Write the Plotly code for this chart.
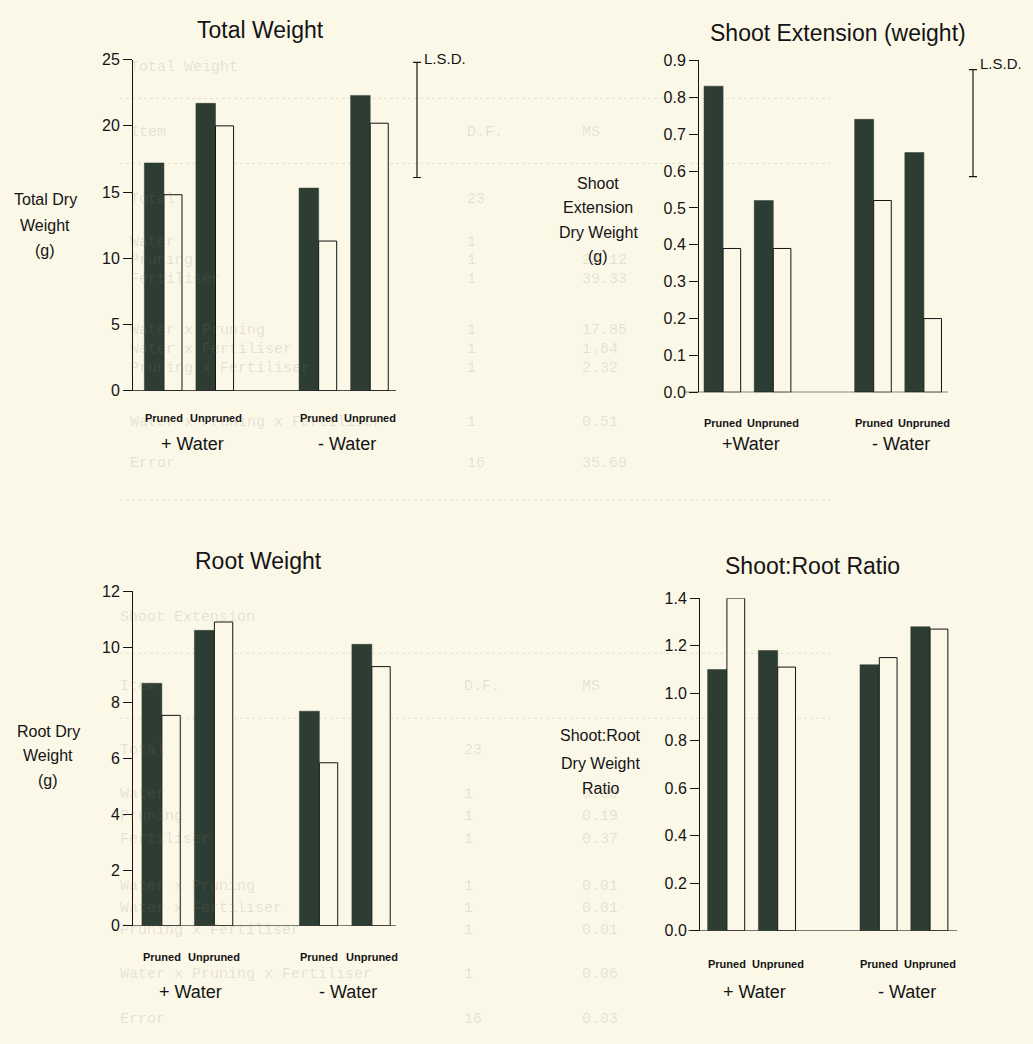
import plotly.graph_objects as go

# ---- data -------------------------------------------------------------
treatments = ["Pruned", "Unpruned", "Pruned", "Unpruned"]
water_groups = ["+ Water", "- Water"]
water_groups_shoot = ["+Water", "- Water"]

total_dark = [17.2, 21.7, 15.3, 22.3]
total_light = [14.8, 20.0, 11.3, 20.2]

shoot_dark = [0.83, 0.52, 0.74, 0.65]
shoot_light = [0.39, 0.39, 0.52, 0.20]

root_dark = [8.7, 10.6, 7.7, 10.1]
root_light = [7.55, 10.9, 5.85, 9.3]

ratio_dark = [1.10, 1.18, 1.12, 1.28]
ratio_light = [1.40, 1.11, 1.15, 1.27]

lsd_total_top, lsd_total = 24.8, 8.7
lsd_shoot_top, lsd_shoot = 0.875, 0.29

total_ticks = [0, 5, 10, 15, 20, 25]
shoot_ticks = [0.0, 0.1, 0.2, 0.3, 0.4, 0.5, 0.6, 0.7, 0.8, 0.9]
root_ticks = [0, 2, 4, 6, 8, 10, 12]
ratio_ticks = [0.0, 0.2, 0.4, 0.6, 0.8, 1.0, 1.2, 1.4]

# faint ANOVA tables printed on the page underneath the charts
anova_top_rows = [
    ("Total Weight", "", ""),
    ("Item", "D.F.", "MS"),
    ("Total", "23", ""),
    ("Water", "1", ""),
    ("Pruning", "1", "24.12"),
    ("Fertiliser", "1", "39.33"),
    ("Water x Pruning", "1", "17.85"),
    ("Water x Fertiliser", "1", "1.64"),
    ("Pruning x Fertiliser", "1", "2.32"),
    ("Water x Pruning x Fertiliser", "1", "0.51"),
    ("Error", "16", "35.69"),
]
anova_bottom_rows = [
    ("Shoot Extension", "", ""),
    ("Item", "D.F.", "MS"),
    ("Total", "23", ""),
    ("Water", "1", "0.00"),
    ("Pruning", "1", "0.19"),
    ("Fertiliser", "1", "0.37"),
    ("Water x Pruning", "1", "0.01"),
    ("Water x Fertiliser", "1", "0.01"),
    ("Pruning x Fertiliser", "1", "0.01"),
    ("Water x Pruning x Fertiliser", "1", "0.06"),
    ("Error", "16", "0.03"),
]

# ---- styling ------------------------------------------------------------
W, H = 1033, 1044
BG = "#fbf8e8"
DARK = "#2d3d34"
INK = "#141414"
FONT = "Liberation Sans, Arial, Helvetica, sans-serif"
MONO = "Liberation Mono, Courier New, monospace"
GHOST = "rgba(130,125,105,0.19)"


def fx(p):
    return p / W


def fy(p):
    return 1 - p / H


# slot positions: one empty slot between the two water groups
slots = [i + (1 if i >= 2 else 0) for i in range(len(treatments))]

panels = [
    dict(dark=total_dark, light=total_light, ticks=total_ticks, fmt="d",
         xdom=(133, 396), ydom=(52.5, 389), xr=(-0.60, 4.50), yr=(0, 25),
         title="Total Weight", tpos=(260, 22),
         ytitle=[("Total Dry", 45, 195), ("Weight", 45, 221), ("(g)", 45, 247)],
         lab_y=417, grp_y=443, groups=water_groups, base_ext=10),
    dict(dark=shoot_dark, light=shoot_light, ticks=shoot_ticks, fmt=".1f",
         xdom=(699, 948), ydom=(53.2, 390.7), xr=(-0.48, 4.48), yr=(0, 0.9),
         title="Shoot Extension (weight)", tpos=(838, 25),
         ytitle=[("Shoot", 598, 178), ("Extension", 598, 203),
                 ("Dry Weight", 598, 228), ("(g)", 598, 253)],
         lab_y=422, grp_y=443, groups=water_groups_shoot, base_ext=15),
    dict(dark=root_dark, light=root_light, ticks=root_ticks, fmt="d",
         xdom=(133, 396), ydom=(593, 933), xr=(-0.55, 4.46), yr=(0, 12),
         title="Root Weight", tpos=(258, 562),
         ytitle=[("Root Dry", 48, 735), ("Weight", 48, 760), ("(g)", 48, 785)],
         lab_y=965, grp_y=1000, groups=water_groups, base_ext=10),
    dict(dark=ratio_dark, light=ratio_light, ticks=ratio_ticks, fmt=".1f",
         xdom=(700, 957), ydom=(600, 938), xr=(-0.53, 4.53), yr=(0, 1.4),
         title="Shoot:Root Ratio", tpos=(812, 567),
         ytitle=[("Shoot:Root", 600, 740), ("Dry Weight", 600, 768),
                 ("Ratio", 600, 793)],
         lab_y=972, grp_y=1000, groups=water_groups, base_ext=12),
]

fig = go.Figure()
annotations = []
shapes = []
layout_axes = {}

for k, p in enumerate(panels, start=1):
    xa = "x" if k == 1 else f"x{k}"
    ya = "y" if k == 1 else f"y{k}"
    xkey = "xaxis" if k == 1 else f"xaxis{k}"
    ykey = "yaxis" if k == 1 else f"yaxis{k}"

    fig.add_trace(go.Bar(
        x=slots, y=p["dark"], xaxis=xa, yaxis=ya,
        offset=-0.38, width=0.38,
        marker=dict(color=DARK, line=dict(color=DARK, width=0.5)),
        hoverinfo="y"))
    fig.add_trace(go.Bar(
        x=slots, y=p["light"], xaxis=xa, yaxis=ya,
        offset=0.0, width=0.35,
        marker=dict(color=BG, line=dict(color=INK, width=1)),
        hoverinfo="y"))

    x0, x1 = p["xdom"]
    y0, y1 = p["ydom"]
    layout_axes[xkey] = dict(
        domain=[fx(x0), fx(x1)], range=list(p["xr"]), anchor=ya,
        showgrid=False, zeroline=False, showline=False,
        showticklabels=False, ticks="", fixedrange=True)
    ticktext = [format(t, p["fmt"]) if p["fmt"] != "d" else str(int(t))
                for t in p["ticks"]]
    layout_axes[ykey] = dict(
        domain=[fy(y1), fy(y0)], range=list(p["yr"]), anchor=xa,
        showgrid=False, zeroline=False, showline=True, linecolor=INK,
        linewidth=1, ticks="outside", ticklen=9, tickwidth=1,
        tickcolor=INK, tickvals=p["ticks"], ticktext=ticktext,
        tickfont=dict(family=FONT, size=16, color=INK), fixedrange=True)

    # baseline running slightly left of the value axis
    shapes.append(dict(
        type="line", xref=f"{xa} domain", yref=ya,
        x0=-p["base_ext"] / (x1 - x0), x1=1, y0=0, y1=0,
        line=dict(color=INK, width=1.2)))

    # panel title
    annotations.append(dict(
        text=p["title"], x=fx(p["tpos"][0]), y=fy(p["tpos"][1]),
        xref="paper", yref="paper", showarrow=False,
        xanchor="center", yanchor="middle",
        font=dict(family=FONT, size=23, color=INK)))

    # value-axis title, one line at a time
    for txt, tx, ty in p["ytitle"]:
        annotations.append(dict(
            text=txt, x=fx(tx), y=fy(ty), xref="paper", yref="paper",
            showarrow=False, xanchor="center", yanchor="middle",
            font=dict(family=FONT, size=16, color=INK)))

    # treatment labels under each pair of bars
    for s, name in zip(slots, treatments):
        annotations.append(dict(
            text=f"<b>{name}</b>", x=s, y=fy(p["lab_y"]),
            xref=xa, yref="paper", showarrow=False,
            xanchor="center", yanchor="middle",
            font=dict(family=FONT, size=11, color=INK)))

    # water-treatment group labels
    for gx, name in zip([0.55, 3.55], p["groups"]):
        annotations.append(dict(
            text=name, x=gx, y=fy(p["grp_y"]),
            xref=xa, yref="paper", showarrow=False,
            xanchor="center", yanchor="middle",
            font=dict(family=FONT, size=18, color=INK)))


# L.S.D. bars
def lsd_bar(xpx, yref, top, length, label_px):
    bottom = top - length
    cap = 4
    shapes.append(dict(type="line", xref="paper", yref=yref,
                       x0=fx(xpx), x1=fx(xpx), y0=bottom, y1=top,
                       line=dict(color=INK, width=1.2)))
    for yv in (top, bottom):
        shapes.append(dict(type="line", xref="paper", yref=yref,
                           x0=fx(xpx - cap), x1=fx(xpx + cap), y0=yv, y1=yv,
                           line=dict(color=INK, width=1.2)))
    annotations.append(dict(
        text="L.S.D.", x=fx(label_px[0]), y=fy(label_px[1]),
        xref="paper", yref="paper", showarrow=False,
        xanchor="left", yanchor="middle",
        font=dict(family=FONT, size=15, color=INK)))


lsd_bar(417, "y", lsd_total_top, lsd_total, (422, 51))
lsd_bar(973, "y2", lsd_shoot_top, lsd_shoot, (978, 56))


# faint ANOVA tables in the page background
def ghost_table(rows, x_item, x_df, x_ms, row_y, rules):
    for (item, df, ms), ty in zip(rows, row_y):
        for txt, tx in ((item, x_item), (df, x_df), (ms, x_ms)):
            if txt:
                annotations.append(dict(
                    text=txt, x=fx(tx), y=fy(ty), xref="paper", yref="paper",
                    showarrow=False, xanchor="left", yanchor="middle",
                    font=dict(family=MONO, size=15, color=GHOST)))
    for ry in rules:
        shapes.append(dict(type="line", xref="paper", yref="paper",
                           x0=fx(120), x1=fx(830), y0=fy(ry), y1=fy(ry),
                           line=dict(color=GHOST, width=1, dash="dot"),
                           layer="below"))


ghost_table(anova_top_rows, 128, 465, 580,
            [60, 127, 195, 238, 257, 276, 328, 347, 366, 421, 463],
            [92, 158, 500])
ghost_table(anova_bottom_rows, 118, 462, 580,
            [620, 690, 755, 800, 822, 845, 893, 915, 938, 983, 1028],
            [656, 722])

fig.update_layout(
    width=W, height=H, margin=dict(l=0, r=0, t=0, b=0),
    paper_bgcolor=BG, plot_bgcolor=BG, showlegend=False,
    barmode="overlay", annotations=annotations, shapes=shapes,
    **layout_axes)

fig.write_html("out.html")
